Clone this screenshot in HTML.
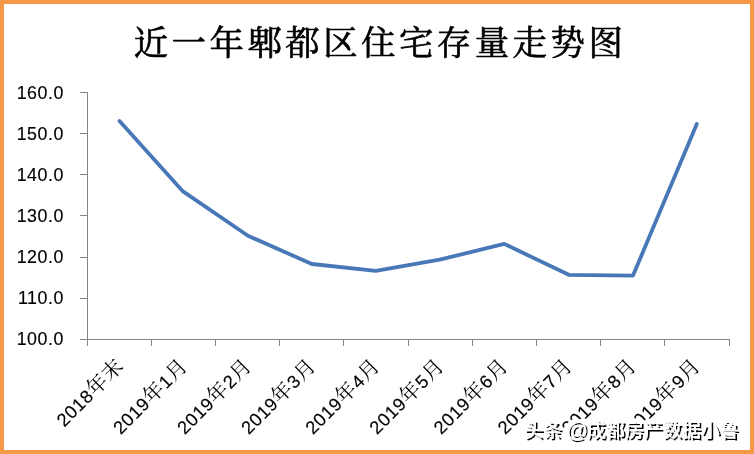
<!DOCTYPE html>
<html lang="zh-CN">
<head>
<meta charset="utf-8">
<title>近一年郫都区住宅存量走势图</title>
<style>
html,body{margin:0;padding:0;background:#fff;}
body{width:754px;height:454px;overflow:hidden;}
svg{display:block;}
.title{font-family:"Liberation Serif","Noto Serif CJK SC",serif;font-size:34.4px;font-weight:400;letter-spacing:3.5px;fill:#000;stroke:#000;stroke-width:0.7px;stroke-linejoin:round;}
.yl{font-family:"Liberation Sans","Noto Sans CJK SC",sans-serif;font-size:17.8px;fill:#000;stroke:#000;stroke-width:0.15px;letter-spacing:0.55px;}
.xl{font-family:"Liberation Sans","Noto Sans CJK SC",sans-serif;font-size:18.3px;fill:#000;}
.xl{letter-spacing:0.65px;stroke:#000;stroke-width:0.15px;}
.xl .c{font-family:"Noto Serif CJK SC",serif;font-size:20.5px;font-weight:400;letter-spacing:0.83px;stroke:none;}
.wm{font-family:"Liberation Sans","Noto Sans CJK SC",sans-serif;font-size:19px;font-weight:500;fill:#ffffff;}
.wm .at{font-size:21.5px;}
</style>
</head>
<body>
<svg width="754" height="454" viewBox="0 0 754 454">
<rect x="0" y="0" width="754" height="454" fill="#F59848"/>
<rect x="4" y="4" width="746" height="446" fill="#ffffff"/>
<text class="title" x="380.0" y="55.2" text-anchor="middle">近一年郫都区住宅存量走势图</text>
<g stroke="#848484" stroke-width="1" fill="none" shape-rendering="crispEdges">
<line x1="87.5" y1="92.0" x2="87.5" y2="345.5"/>
<line x1="80.0" y1="339.5" x2="730" y2="339.5"/>
<line x1="80.0" y1="92.5" x2="87.5" y2="92.5"/>
<line x1="80.0" y1="133.5" x2="87.5" y2="133.5"/>
<line x1="80.0" y1="174.5" x2="87.5" y2="174.5"/>
<line x1="80.0" y1="215.5" x2="87.5" y2="215.5"/>
<line x1="80.0" y1="257.5" x2="87.5" y2="257.5"/>
<line x1="80.0" y1="298.5" x2="87.5" y2="298.5"/>
<line x1="151.5" y1="339.5" x2="151.5" y2="345.5"/>
<line x1="215.5" y1="339.5" x2="215.5" y2="345.5"/>
<line x1="279.5" y1="339.5" x2="279.5" y2="345.5"/>
<line x1="343.5" y1="339.5" x2="343.5" y2="345.5"/>
<line x1="408.5" y1="339.5" x2="408.5" y2="345.5"/>
<line x1="472.5" y1="339.5" x2="472.5" y2="345.5"/>
<line x1="536.5" y1="339.5" x2="536.5" y2="345.5"/>
<line x1="600.5" y1="339.5" x2="600.5" y2="345.5"/>
<line x1="664.5" y1="339.5" x2="664.5" y2="345.5"/>
<line x1="729.5" y1="339.5" x2="729.5" y2="345.5"/>
</g>
<text class="yl" x="63.9" y="98.9" text-anchor="end">160.0</text>
<text class="yl" x="63.9" y="140.0" text-anchor="end">150.0</text>
<text class="yl" x="63.9" y="181.0" text-anchor="end">140.0</text>
<text class="yl" x="63.9" y="222.1" text-anchor="end">130.0</text>
<text class="yl" x="63.9" y="262.8" text-anchor="end">120.0</text>
<text class="yl" x="63.9" y="304.2" text-anchor="end">110.0</text>
<text class="yl" x="63.9" y="345.3" text-anchor="end">100.0</text>
<text class="xl" transform="translate(125.0,366.9) rotate(-45)" text-anchor="end">2018<tspan class="c">年末</tspan></text>
<text class="xl" transform="translate(189.1,366.9) rotate(-45)" text-anchor="end">2019<tspan class="c">年</tspan>1<tspan class="c">月</tspan></text>
<text class="xl" transform="translate(253.2,366.9) rotate(-45)" text-anchor="end">2019<tspan class="c">年</tspan>2<tspan class="c">月</tspan></text>
<text class="xl" transform="translate(317.3,366.9) rotate(-45)" text-anchor="end">2019<tspan class="c">年</tspan>3<tspan class="c">月</tspan></text>
<text class="xl" transform="translate(381.4,366.9) rotate(-45)" text-anchor="end">2019<tspan class="c">年</tspan>4<tspan class="c">月</tspan></text>
<text class="xl" transform="translate(445.5,366.9) rotate(-45)" text-anchor="end">2019<tspan class="c">年</tspan>5<tspan class="c">月</tspan></text>
<text class="xl" transform="translate(509.6,366.9) rotate(-45)" text-anchor="end">2019<tspan class="c">年</tspan>6<tspan class="c">月</tspan></text>
<text class="xl" transform="translate(573.8,366.9) rotate(-45)" text-anchor="end">2019<tspan class="c">年</tspan>7<tspan class="c">月</tspan></text>
<text class="xl" transform="translate(637.8,366.9) rotate(-45)" text-anchor="end">2019<tspan class="c">年</tspan>8<tspan class="c">月</tspan></text>
<text class="xl" transform="translate(701.9,366.9) rotate(-45)" text-anchor="end">2019<tspan class="c">年</tspan>9<tspan class="c">月</tspan></text>
<path d="M119.5,121.0 L183.0,191.4 L248.0,235.8 L311.9,264.0 L375.8,270.9 L439.7,259.7 L504.2,243.9 L568.8,274.8 L633.0,275.6 L696.8,123.9" fill="none" stroke="#4878B8" stroke-width="3.8" stroke-linecap="round" stroke-linejoin="round"/>
<defs><filter id="ds" x="-5%" y="-40%" width="110%" height="180%"><feMorphology in="SourceAlpha" operator="dilate" radius="2" result="d"/><feFlood flood-color="#ffffff" flood-opacity="1"/><feComposite in2="d" operator="in" result="halo"/><feOffset in="SourceAlpha" dx="1.8" dy="1.8" result="o"/><feGaussianBlur in="o" stdDeviation="0.3" result="b"/><feFlood flood-color="#000000" flood-opacity="1"/><feComposite in2="b" operator="in" result="sh"/><feMerge><feMergeNode in="halo"/><feMergeNode in="sh"/><feMergeNode in="SourceGraphic"/></feMerge></filter></defs>
<text class="wm" x="738.7" y="437.2" text-anchor="end" filter="url(#ds)">头条 <tspan class="at" dx="-1.5">@</tspan><tspan dx="-0.8">成都房产数据小鲁</tspan></text>
</svg>
</body>
</html>
